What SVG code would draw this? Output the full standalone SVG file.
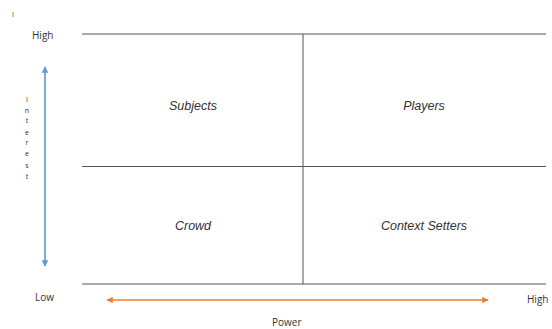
<svg xmlns="http://www.w3.org/2000/svg" width="552" height="329" viewBox="0 0 552 329">
<style>
.grid{stroke:#555;stroke-width:1;fill:none}
.ax{font-family:"Open Sans","Liberation Sans",sans-serif;font-size:10px;fill:#333}
.q{font-family:"Liberation Sans",Arial,sans-serif;font-size:12.5px;font-style:italic;fill:#333;text-anchor:middle}
.il{font-family:"Open Sans","Liberation Sans",sans-serif;font-size:7px;fill:#333;text-anchor:middle}
</style>
<defs>
<marker id="ab" viewBox="0 0 10 10" refX="9" refY="5" markerWidth="4" markerHeight="4" orient="auto-start-reverse"><path d="M0,0 L10,5 L0,10 z" fill="#5b9bd5"/></marker>
<marker id="ao" viewBox="0 0 10 10" refX="9" refY="5" markerWidth="4" markerHeight="4" orient="auto-start-reverse"><path d="M0,0 L10,5 L0,10 z" fill="#ed7d31"/></marker>
</defs>
<rect width="552" height="329" fill="#fff"/>
<g id="grid">
<line class="grid" x1="82" y1="34" x2="546" y2="34"/>
<line class="grid" x1="82" y1="166.5" x2="546" y2="166.5"/>
<line class="grid" x1="82" y1="284" x2="546" y2="284"/>
<line class="grid" x1="303" y1="34" x2="303" y2="284"/>
</g>
<g id="connectors">
<line x1="45" y1="67" x2="45" y2="266" stroke="#5b9bd5" stroke-width="1.6" marker-start="url(#ab)" marker-end="url(#ab)"/>
<line x1="107" y1="300" x2="488" y2="300" stroke="#ed7d31" stroke-width="1.6" marker-start="url(#ao)" marker-end="url(#ao)"/>
</g>
<g id="subjects"><text class="q" x="193" y="110">Subjects</text></g>
<g id="players"><text class="q" x="424" y="110">Players</text></g>
<g id="crowd"><text class="q" x="193" y="230">Crowd</text></g>
<g id="context-setters"><text class="q" x="424" y="230">Context Setters</text></g>
<g id="labels">
<text class="ax" x="12" y="17" style="font-size:7px">I</text>
<text class="ax" x="32" y="39">High</text>
<text class="ax" x="35" y="301">Low</text>
<text class="ax" x="527" y="303">High</text>
<text class="ax" x="272" y="326">Power</text>
<text class="il" x="27" y="101.5">I</text>
<text class="il" x="27" y="112.5">n</text>
<text class="il" x="27" y="123">t</text>
<text class="il" x="27" y="135">e</text>
<text class="il" x="27" y="145">r</text>
<text class="il" x="27" y="156">e</text>
<text class="il" x="27" y="167.5">s</text>
<text class="il" x="27" y="179">t</text>
</g>
</svg>
